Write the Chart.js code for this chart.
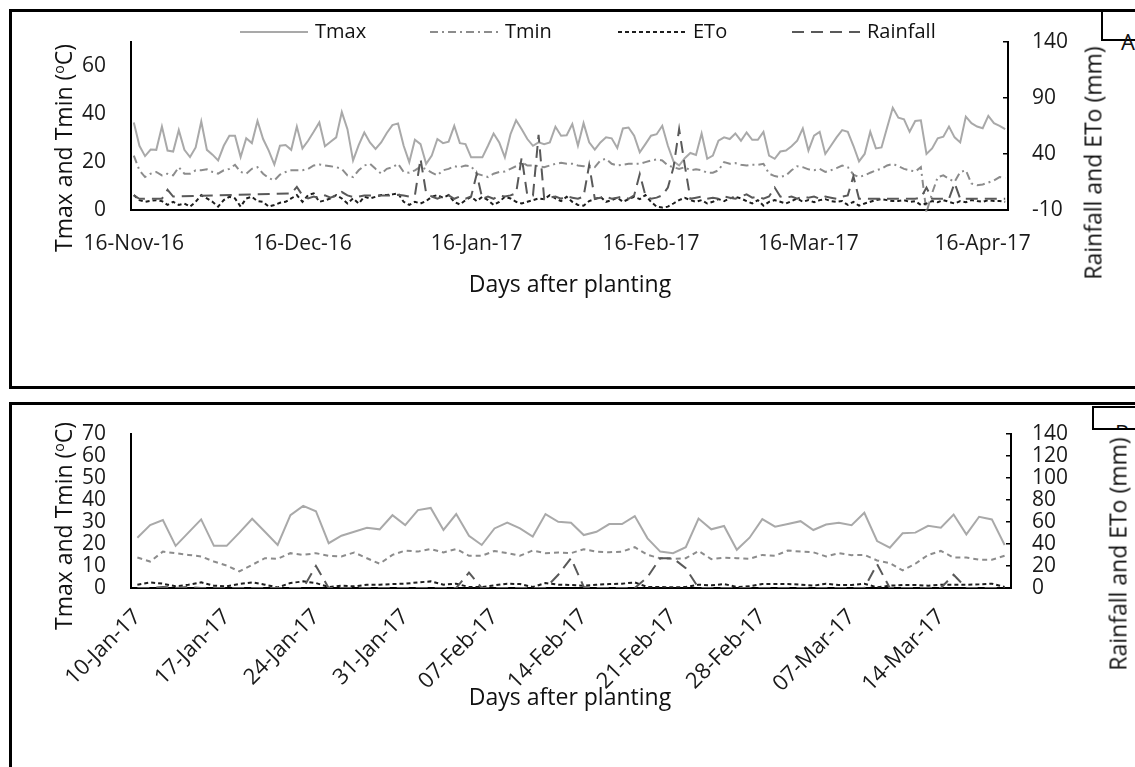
<!DOCTYPE html>
<html lang="en">
<head>
<meta charset="UTF-8">
<title>Weather during the growing season</title>
<script src="https://cdn.jsdelivr.net/npm/chart.js"></script>
<style>
  body { margin: 0; background: #fff; font-family: 'Open Sans', sans-serif; color: #111; }
  #page { position: relative; width: 1135px; height: 767px; overflow: hidden; }
  canvas { position: absolute; left: 0; }
  .frame { position: absolute; border: 3px solid #000; }
  .ttl { position: absolute; font-size: 23px; white-space: nowrap; line-height: 1; }
  .vt { transform: translate(-50%, -50%) rotate(-90deg); }
  .ht { transform: translate(-50%, -50%); }
  .sup { font-size: 14px; position: relative; top: -8px; }
  .leg { position: absolute; font-size: 20px; line-height: 1; white-space: nowrap; }
  .tag { position: absolute; border-left: 2px solid #000; border-bottom: 2px solid #000; }
</style>
</head>
<body>
<div id="page">
  <div class="frame" style="left:9px; top:9px; width:1200px; height:374px;"></div>
  <div class="frame" style="left:9px; top:402px; width:1200px; height:500px;"></div>

  <div class="tag" style="left:1101px; top:10px; width:60px; height:29px;"></div>
  <div class="ttl" style="left:1121px; top:30px; font-size:22px;">A</div>
  <div class="tag" style="left:1092px; top:406px; width:60px; height:20px; border-top:2px solid #000; overflow:hidden;">
    <div style="position:absolute; left:21px; top:13px; font-size:22px; line-height:1;">B</div>
  </div>

  <canvas id="chartA" width="1135" height="390" style="top:0;"></canvas>
  <canvas id="chartB" width="1135" height="372" style="top:395px;"></canvas>

  <div class="ttl vt" style="left:63px; top:148px;">Tmax and Tmin (<span class="sup">o</span>C)</div>
  <div class="ttl ht" style="left:570px; top:283px;">Days after planting</div>
  <div class="ttl vt" style="left:1093px; top:163px;">Rainfall and ETo (mm)</div>

  <div class="ttl vt" style="left:63px; top:526px;">Tmax and Tmin (<span class="sup">o</span>C)</div>
  <div class="ttl ht" style="left:570px; top:696px;">Days after planting</div>
  <div class="ttl vt" style="left:1118px; top:554px;">Rainfall and ETo (mm)</div>
  <div id="legendA"></div>
</div>
<script>

// ---- panel A: 16-Nov-16 .. 20-Apr-17, one value per day ----
const tmaxA = [36.4, 26.7, 22.4, 25.1, 25, 34.7, 24.7, 24.3, 33.2, 25, 22, 26, 36.8, 25, 23, 20.6, 26.7, 30.9, 30.9, 22,
  29.8, 27.8, 37, 29.5, 24.7, 18.9, 26.7, 27, 25, 34.7, 25.6, 28.8, 32.5, 36.4, 26.5, 28.4, 30.2, 40.7, 33.6, 20.6,
  27, 32.2, 28.1, 25.4, 28.1, 32, 35.3, 36, 26.7, 19.9, 29.2, 27.4,
  19.2, 22.6, 29.5, 27.8, 28.4, 35, 27.8, 27.4, 21.9, 21.9, 21.9, 26.7, 31.8, 28.1, 21.9, 31.5, 37.3, 33.6,
  29.5, 26.7, 28.1, 27.4, 28.1, 34.6, 30.9, 31.1, 35.7, 26.7, 36.1, 28.1, 25.1, 28.1, 30.2, 29.8, 25.8, 33.9, 34.3, 30.9,
  24, 27.4, 30.9, 31.5, 35, 26.7, 20.2, 18.5, 21.5, 23.7, 22.9, 31.8, 21.3,
  22.6, 28.8, 30.2, 29.5, 31.8, 28.8, 32.2, 29.2, 29.2, 32.5, 22.6, 21.3, 24.3, 24.7, 26.5, 28.8, 33.9, 24.7, 30.9, 32.5,
  23.3, 26.7, 30.2, 33.2, 32.5, 26.7, 20.2, 23.3, 32.5, 25.6, 26, 34.3, 42.5, 38.4, 37.7, 32.5, 37, 37.3, 23.3, 25.6,
  29.8, 30.5, 34.7, 30.2, 28.1, 38.8, 36.1, 34.7, 34, 39.1, 36.1, 35, 33.6];

const tminA = [22.6, 16.5, 13.7, 15.1, 15.8, 14.4, 15.1, 14.4, 17.8, 15.1, 15.1, 16.5, 16.5, 16.9, 15.8, 15.1, 16.5, 17.1, 18.8, 15.8,
  15.1, 17.1, 17.8, 15.1, 13.3, 12.3, 14.7, 15.8, 16.5, 16.5, 16.5, 17.1, 18.5, 18.9, 18.5, 18.2, 17.8, 17.1, 14.4, 13.7,
  16.5, 18.5, 19.2, 17.1, 15.1, 17.1, 17.8, 19.2, 15.8, 15.5, 16.5, 18,
  16.9, 15.5, 14.4, 16.5, 17.1, 18.2, 17.8, 18.5, 18.2, 15.1, 14.4, 13.7, 15.1, 15.8, 16, 17.1, 18.2, 19.9,
  18.5, 18.5, 18.2, 17.8, 18.5, 19.2, 19.6, 19.2, 19.2, 18.5, 18.2, 18.5, 17.8, 20.6, 21.3, 19.2, 18.5, 18.8, 19.2, 19.2,
  19.2, 19.9, 20.6, 21, 20.6, 18.5, 17.8, 17.1, 17.8, 16.5, 16.9, 16.5, 15.5,
  15.5, 16.5, 19.9, 19.2, 19.5, 18.8, 18.5, 18.8, 18.8, 19.2, 15.1, 14.1, 13.7, 14.4, 16.5, 18.2, 17.8, 16.9, 16.5, 17.1,
  15.8, 16.5, 17.4, 18.5, 17.8, 14.7, 13.7, 14.4, 15.5, 16.5, 17.1, 18.5, 19.2, 18.2, 17.1, 16.5, 16, 17.8, -1, 7,
  13.7, 14.4, 13, 11.7, 15.8, 16.5, 11, 10.3, 10.6, 11.4, 12.3, 13.7, 13.3];

const etoA = [6.2, 4.1, 3.4, 3.8, 4.1, 3.7, 2.1, 3.4, 2.1, 2.7, 1.4, 3.4, 6.2, 4.8, 3.4, 1.4, 4.1, 5.5, 4.8, 1.4,
  4.8, 5.5, 3.7, 3.4, 1.4, 2.1, 3, 3.4, 4.8, 6.2, 3.4, 6.2, 6.9, 3.4, 4, 4.8, 6.2, 4.8, 2.7, 4.8,
  2.7, 5.5, 4.8, 5.5, 6.2, 6.2, 6.5, 6.9, 3.4, 2.1, 3.4, 2.7,
  3.7, 5.5, 6.2, 5.1, 6.2, 3.4, 2.3, 4.1, 5.5, 3.7, 5.5, 4.1, 2.1, 3.4, 5.5, 4.8, 3.4, 2.7,
  3.4, 4.1, 4.8, 4.5, 6.2, 4.8, 3.7, 5.5, 3.4, 2.1, 1.8, 3.7, 4.5, 5.5, 3.4, 4.1, 5.1, 3.4, 4.5, 5.5,
  4.5, 6.2, 3.4, 1.4, 1, 1.4, 2.7, 4.1, 5.1, 4.1, 3.4,
  4.1, 2.7, 3.4, 4.5, 3.7, 4.8, 5.5, 4.8, 3.7, 2.7, 4.1, 1.8, 3.4, 4.1, 3.4, 2.7, 3.7, 4.8, 3.4, 4.1,
  3.2, 4.1, 4.5, 3.7, 3.4, 3.7, 2.1, 3.4, 1.8, 2.7, 3.4, 4.1, 4.5, 4.1, 3.7, 3.7, 4.1, 3.4, 3.7, 2.1,
  2.7, 3.7, 3.2, 4.1, 3.4, 2.7, 3.7, 3.2, 4.1, 3.7, 3.4, 4.1, 3.7, 3.7, 3.4];

// rainfall, missing days left empty (the line is joined across them)
const rainA = [3, 0, 0, 0, 0, 0, 8, 2, null, null, null, null, null, null, null, null, null, null, null, null,
  null, null, null, null, null, null, null, null, 4.7, 10.6, 3, 0.3, 2, 0.5, 3, 1, 3, 6, 3, 1.5,
  2, 3, 3, 3, 3, 3, 3, 3.5, 3, 2, 3, 35.6,
  5, 2, 0, 2, 3, 0, 2, 0, 2, 22, 0, 2, 0, 3, 2, 3, 5, 37,
  3, 3, 57, 0, 1, 2, 0, 2, 1, 0, 2, 30, 0, 1, 2, 0, 1, 2, 0, 3,
  22, 3, 0, 1, 3, 10, 28, 62, 30, 0, 1,
  2, 0, 1, 0, 2, 1, 0, 2, 4, 1, 2, 0, 2, 10, 2, 1, 2, 0, 2, 1,
  2, 0, 2, 1, 0, 2, 3, 20, 0, 0, 0, 0, 0, 0, 0, 0, 0, 0, 0, 1,
  10, 0, 0, 0, 0, 14, 0, 0, 0, 0, 0, 0, 0, 0, 0];

const tickIdxA = [0, 30, 61, 92, 120, 151];
const tickLabelsA = ['16-Nov-16', '16-Dec-16', '16-Jan-17', '16-Feb-17', '16-Mar-17', '16-Apr-17'];
const leftTicksA = [0, 20, 40, 60];
const rightTicksA = [-10, 40, 90, 140];

// ---- panel B: 10-Jan-17 .. 19-Mar-17 ----
const tmaxB = [22.8, 28.5, 30.8, 19.1, 25.1, 31.1, 19.1, 19.1, 25.1, 31.4, 25.5, 19.5, 33, 37.2, 34.8, 20.3, 23.7, 25.5, 27.3, 26.6,
  33, 28.5, 35.3, 36.3, 26.3, 33.5, 23.7, 19.5, 27, 29.7, 27, 23.3, 33.5, 30, 29.6, 24, 25.5, 29, 29, 32.6,
  22.5, 16.5, 15.8, 18.5, 31.5, 26.6, 28.1, 17.3, 22.8, 31.2, 27.8, 29, 30.3, 26.3, 28.8, 29.6, 28.5, 34.1, 21.3, 18.3,
  24.8, 25.1, 28.2, 27.3, 33.3, 24.3, 32.3, 31.1, 19.5];
const tminB = [13.8, 12, 16.5, 15.8, 15, 14.3, 12, 10.2, 7.5, 10.5, 13.5, 13.2, 15.8, 15, 15.8, 14.6, 14.3, 16.1, 13.5, 11,
  15, 17, 16.5, 17.7, 16.1, 17.7, 14.6, 14.6, 16.8, 15.8, 14.6, 17, 15.8, 16.1, 15.8, 17.6, 16.5, 16.2, 16.5, 18.5,
  15, 13.5, 13.2, 13.5, 16.8, 13.1, 13.8, 13.5, 13.2, 15, 14.6, 17, 16.5, 16.2, 14.3, 15.8, 14.9, 15, 12.5, 11.3,
  8, 11, 15, 16.8, 13.8, 13.8, 12.8, 12.8, 14.6];
const etoB = [3, 5.1, 3.9, 1.5, 3, 5.1, 2.1, 1.5, 3.6, 5.1, 3, 0.5, 4.5, 6, 4.5, 0.9, 2.1, 1.5, 3, 3,
  3.6, 3.9, 5.1, 6, 3, 3.9, 0.9, 0.9, 2.4, 3.9, 3.6, 0.9, 4.5, 3, 2.7, 2.1, 3, 3.6, 3.9, 5.1,
  0.9, 0.9, 0.6, 0.9, 3, 2.4, 3.6, 0.9, 1.5, 3.6, 3.6, 3.6, 3, 2.1, 3.9, 2.7, 2.7, 3.9, 0.6, 2.1,
  2.7, 2.7, 2.1, 3, 3, 3, 3.3, 3.9, 0.9];
const rainB = [0, 0, 1, 0, 1, 0, 0, 0, 0, 0, 0, 0, 0, 0, 20, 0, 0, 0, 0, 0,
  0, 0, 0, 0, 0, 0, 14, 0, 0, 0, 0, 0, 0, 12, 27, 1, 0, 0, 0, 0,
  10, 27, 27, 18, 0, 0, 0, 0, 0, 0, 0, 0, 0, 0, 0, 0, 0, 0, 21.6, 0,
  0, 0, 0, 0, 12, 0, 0, 0, 0];

const tickIdxB = [0, 7, 14, 21, 28, 35, 42, 49, 56, 63];
const tickLabelsB = ['10-Jan-17', '17-Jan-17', '24-Jan-17', '31-Jan-17', '07-Feb-17',
  '14-Feb-17', '21-Feb-17', '28-Feb-17', '07-Mar-17', '14-Mar-17'];
const leftTicksB = [0, 10, 20, 30, 40, 50, 60, 70];
const rightTicksB = [0, 20, 40, 60, 80, 100, 120, 140];

const cTmax = '#a9a9a9';
const cTmin = '#8c8c8c';
const cEto = '#1e1e1e';
const cRain = '#595959';

Chart.defaults.font.family = "'Open Sans', sans-serif";
Chart.defaults.color = '#1a1a1a';

const tickFont = { size: 21 };

function setTicks(values) {
  return scale => { scale.ticks = values.map(v => ({ value: v })); };
}
function labelFor(idx, labels) {
  return value => { const k = idx.indexOf(value); return k < 0 ? '' : labels[k]; };
}

function buildChart(id, d, opt) {
  const datasets = [
    { label: 'Tmax', data: d.tmax, yAxisID: 'yL', borderColor: cTmax, borderWidth: 2, order: 3 },
    { label: 'Tmin', data: d.tmin, yAxisID: 'yL', borderColor: cTmin, borderWidth: 2, borderDash: opt.tminDash, order: 2, clip: false },
    { label: 'ETo', data: d.eto, yAxisID: opt.etoAxis, borderColor: cEto, borderWidth: 2, borderDash: [4, 3], order: 1 },
    { label: 'Rainfall', data: d.rain, yAxisID: 'yR', borderColor: cRain, borderWidth: 2, borderDash: [12, 7], spanGaps: true, order: 0 }
  ];
  return new Chart(document.getElementById(id), {
    type: 'line',
    data: { labels: d.tmax.map((_, i) => i), datasets },
    options: {
      responsive: false,
      animation: false,
      elements: { point: { radius: 0 }, line: { tension: 0, fill: false } },
      layout: { padding: { top: opt.top, left: 0, right: 0, bottom: 0 } },
      plugins: { legend: { display: false }, tooltip: { enabled: false } },
      scales: {
        x: {
          type: 'category',
          offset: true,
          grid: { display: false },
          border: { color: '#000', width: 2 },
          ticks: { autoSkip: false, minRotation: opt.rot, maxRotation: opt.rot, font: { size: opt.xFont }, padding: opt.xPad,
                   callback: labelFor(opt.tickIdx, opt.tickLabels) },
          afterBuildTicks: setTicks(opt.tickIdx),
          afterFit: s => { s.height = opt.xHeight; }
        },
        yL: {
          position: 'left', min: opt.left[0], max: opt.leftMax,
          grid: { display: false },
          border: { color: '#000', width: 2 },
          ticks: { autoSkip: false, font: tickFont, padding: 17 },
          afterBuildTicks: setTicks(opt.left),
          afterFit: s => { s.width = 131; }
        },
        yR: {
          position: 'right', min: opt.right[0], max: opt.right[opt.right.length - 1],
          grid: { display: true, drawOnChartArea: false, drawTicks: true, tickLength: -5, color: '#000', lineWidth: 1.5 },
          border: { color: '#000', width: 2 },
          ticks: { autoSkip: false, font: tickFont, padding: opt.rPad },
          afterBuildTicks: setTicks(opt.right),
          afterFit: s => { s.width = opt.rWidth; }
        }
      }
    }
  });
}

const chartA = buildChart('chartA', { tmax: tmaxA, tmin: tminA, eto: etoA, rain: rainA }, {
  top: 40, xHeight: 180, xPad: 13, xFont: 21, rot: 0, rWidth: 127, rPad: 29, etoAxis: 'yL',
  tickIdx: tickIdxA, tickLabels: tickLabelsA, left: leftTicksA, leftMax: 70, right: rightTicksA,
  tminDash: [8, 4, 2, 4]
});

buildChart('chartB', { tmax: tmaxB, tmin: tminB, eto: etoB, rain: rainB }, {
  top: 38, xHeight: 179, xPad: 8, xFont: 22, rot: 45, rWidth: 124, rPad: 26, etoAxis: 'yR',
  tickIdx: tickIdxB, tickLabels: tickLabelsB, left: leftTicksB, leftMax: 70, right: rightTicksB,
  tminDash: [5, 4]
});

// legend for panel A, built from the chart's own dataset styles
const legendX = [240, 430, 618, 792];
const legendBox = document.getElementById('legendA');
chartA.data.datasets.forEach((ds, k) => {
  const x = legendX[k];
  const dash = (ds.borderDash || []).join(' ');
  const svg = `<svg style="position:absolute;left:${x}px;top:28px" width="68" height="8">
    <line x1="0" y1="4" x2="68" y2="4" stroke="${ds.borderColor}" stroke-width="2" stroke-dasharray="${dash}"/></svg>`;
  legendBox.insertAdjacentHTML('beforeend', svg +
    `<div class="leg" style="left:${x + 75}px; top:21px;">${ds.label}</div>`);
});

</script>
</body>
</html>
